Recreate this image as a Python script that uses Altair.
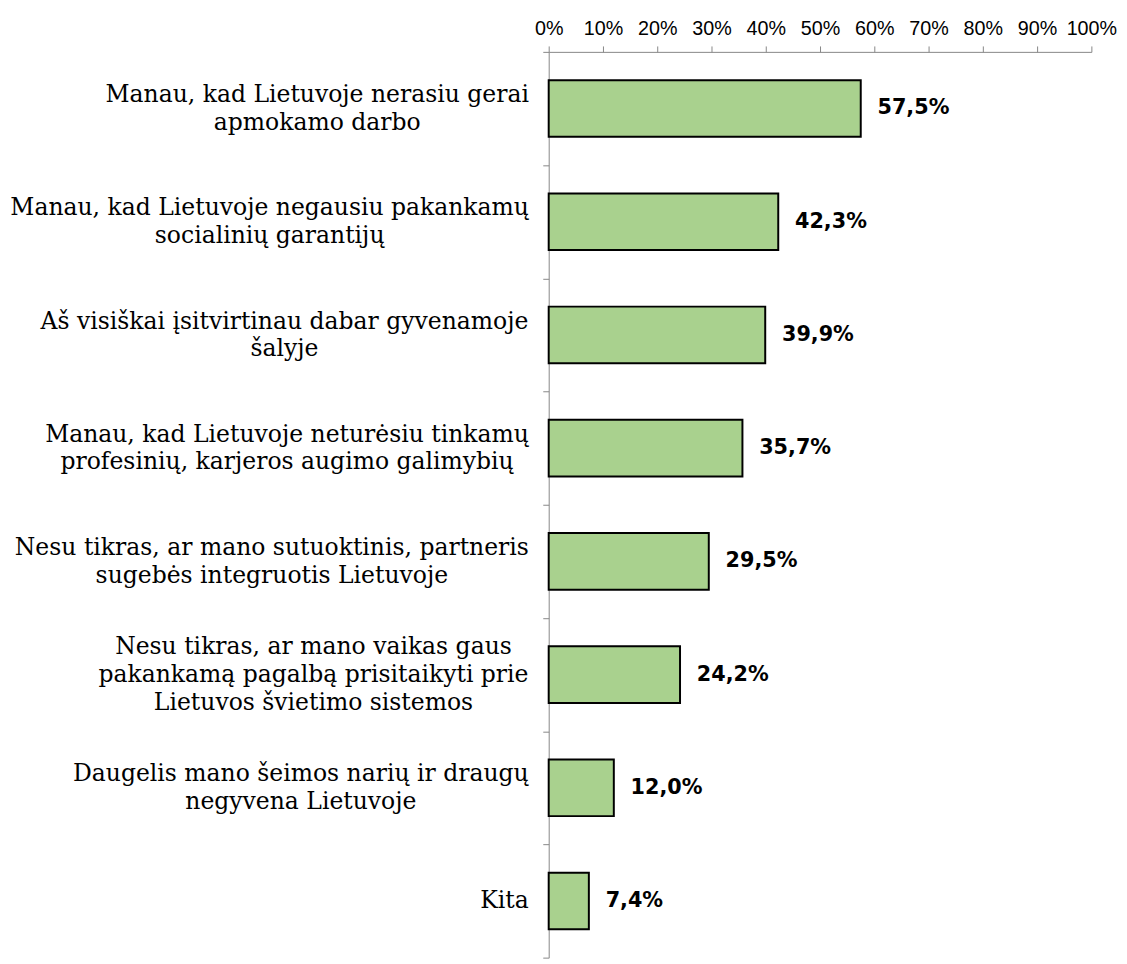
import json
import altair as alt
import pandas as pd

categories = [
    "Manau, kad Lietuvoje nerasiu gerai\napmokamo darbo",
    "Manau, kad Lietuvoje negausiu pakankamų\nsocialinių garantijų",
    "Aš visiškai įsitvirtinau dabar gyvenamoje\nšalyje",
    "Manau, kad Lietuvoje neturėsiu tinkamų\nprofesinių, karjeros augimo galimybių",
    "Nesu tikras, ar mano sutuoktinis, partneris\nsugebės integruotis Lietuvoje",
    "Nesu tikras, ar mano vaikas gaus\npakankamą pagalbą prisitaikyti prie\nLietuvos švietimo sistemos",
    "Daugelis mano šeimos narių ir draugų\nnegyvena Lietuvoje",
    "Kita",
]
values = [57.5, 42.3, 39.9, 35.7, 29.5, 24.2, 12.0, 7.4]
x_ticks = [0, 10, 20, 30, 40, 50, 60, 70, 80, 90, 100]

df = pd.DataFrame({"cat": categories, "v": values})

axis_gray = "#868686"
label_font_size = 23.8
label_line_h = 28
label_gap = 15

# approximate DejaVu Serif advance widths (em/1000) to centre multi-line labels
_w = {
    " ": 318, ",": 318, "A": 722, "D": 771, "K": 735, "L": 637, "M": 995, "N": 837,
    "a": 596, "b": 640, "c": 560, "d": 640, "e": 592, "g": 640, "i": 320, "j": 320,
    "k": 602, "l": 320, "m": 948, "n": 644, "o": 602, "p": 640, "r": 478, "s": 513,
    "t": 402, "u": 644, "v": 565, "y": 565, "z": 527,
}
_base = {"ą": "a", "ų": "u", "į": "i", "ė": "e", "š": "s", "Š": "S"}


def _line_w(s):
    return sum(_w.get(_base.get(c, c), 600) for c in s) / 1000.0 * label_font_size


half_w = [round(max(_line_w(l) for l in c.split("\n")) / 2, 1) for c in categories]
pad_expr = (
    f"{label_gap} + {json.dumps(half_w)}"
    f"[indexof({json.dumps(categories, ensure_ascii=False)}, datum.value)]"
)
offset_expr = f"-(length(split(datum.value, '\\n')) - 1) * {label_line_h / 2}"

base = alt.Chart(df).transform_calculate(
    lab="replace(format(datum.v, '.1f'), '.', ',') + '%'"
).encode(
    y=alt.Y(
        "cat:N",
        sort=categories,
        scale=alt.Scale(paddingInner=0, paddingOuter=0),
        axis=alt.Axis(
            title=None,
            labelExpr="split(datum.label, '\\n')",
            labelFont="DejaVu Serif",
            labelFontSize=label_font_size,
            labelLineHeight=label_line_h,
            labelPadding={"expr": pad_expr},
            labelOffset={"expr": offset_expr},
            labelAlign="center",
            labelBaseline="middle",
            labelColor="black",
            labelLimit=800,
            tickBand="extent",
            tickSize=6,
            tickColor=axis_gray,
            domainColor=axis_gray,
        ),
    )
)

bars = base.mark_bar(
    color="#A9D18E", stroke="black", strokeWidth=2, height={"band": 0.5}
).encode(
    x=alt.X(
        "v:Q",
        scale=alt.Scale(domain=[0, 100]),
        axis=alt.Axis(
            orient="top",
            values=x_ticks,
            labelExpr="datum.value + '%'",
            title=None,
            grid=False,
            tickSize=6,
            labelPadding=8,
            labelFont="Liberation Sans",
            labelFontSize=20,
            labelColor="black",
            labelFlush=False,
            labelOverlap=False,
            tickColor=axis_gray,
            domainColor=axis_gray,
        ),
    )
)

texts = base.mark_text(
    align="left", baseline="middle", dx=17,
    font="DejaVu Sans", fontWeight="bold", fontSize=21, color="black"
).encode(x="v:Q", text="lab:N")

chart = (bars + texts).properties(
    width=550,
    height=918,
    padding={"top": 4, "left": 1, "right": 2, "bottom": 0},
).configure_view(stroke=None)

chart.save("out.html", embed_options={"renderer": "svg", "actions": False})
